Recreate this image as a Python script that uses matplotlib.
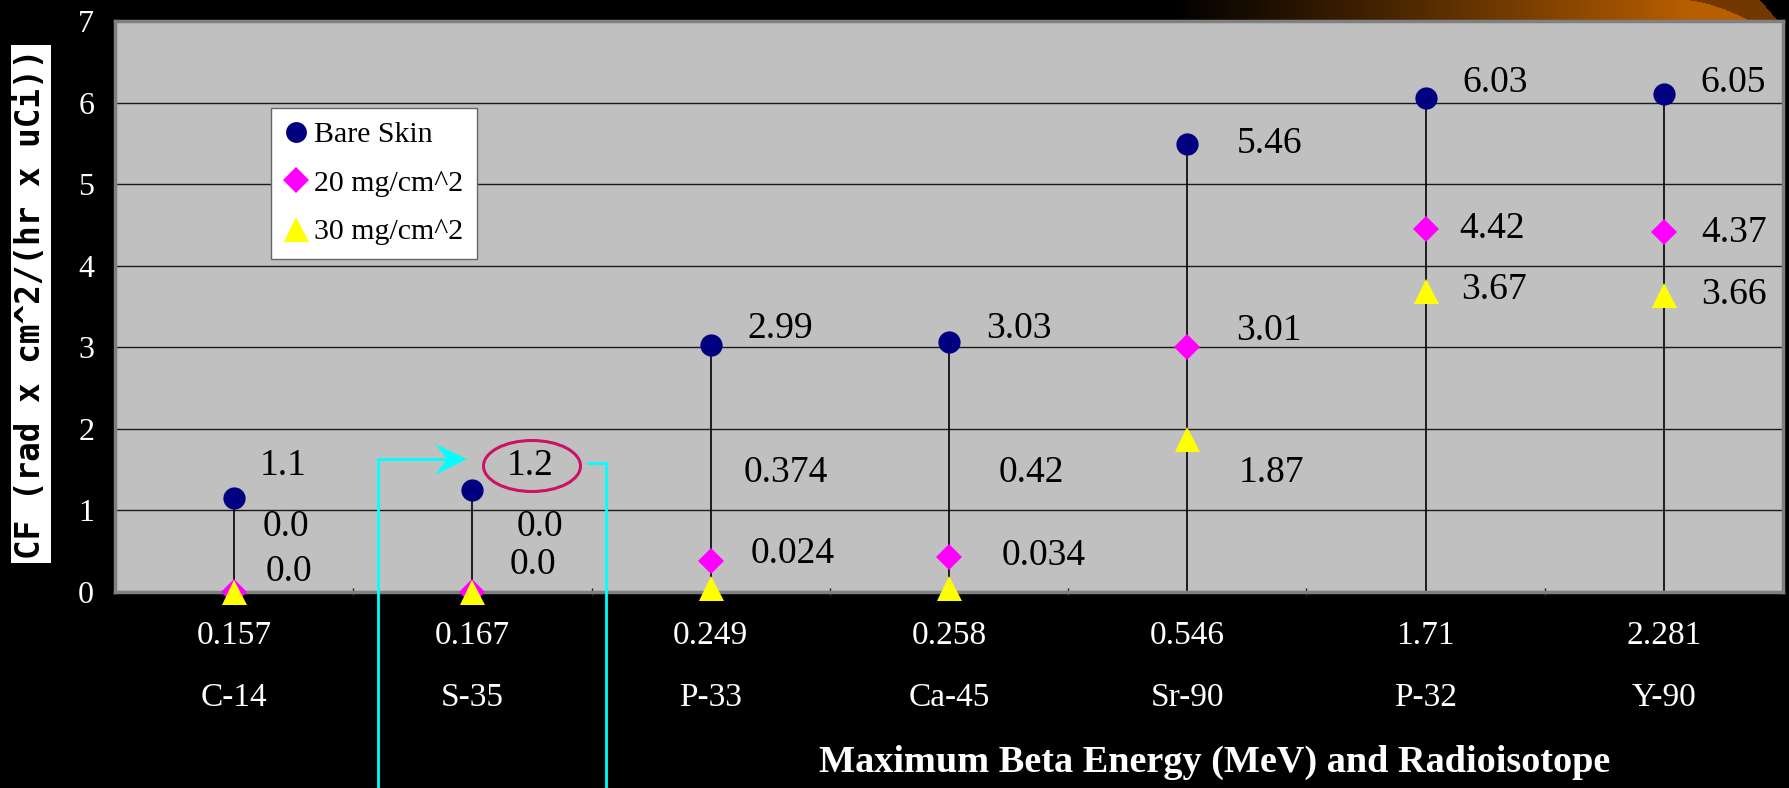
import numpy as np
import matplotlib
matplotlib.use("Agg")
import matplotlib.pyplot as plt
from matplotlib.patches import Ellipse, Polygon
from matplotlib.lines import Line2D
from matplotlib.font_manager import FontProperties

# ---------------- data ----------------
energies = ["0.157", "0.167", "0.249", "0.258", "0.546", "1.71", "2.281"]
isotopes = ["C-14", "S-35", "P-33", "Ca-45", "Sr-90", "P-32", "Y-90"]
series_names = ["Bare Skin", "20 mg/cm^2", "30 mg/cm^2"]

bare_skin = [1.15, 1.25, 3.03, 3.07, 5.49, 6.06, 6.10]
mg20 = [0.0, 0.0, 0.38, 0.43, 3.00, 4.45, 4.41]
mg30 = [0.0, 0.0, 0.05, 0.05, 1.87, 3.69, 3.64]

bare_labels = ["1.1", "1.2", "2.99", "3.03", "5.46", "6.03", "6.05"]
mg20_labels = ["0.0", "0.0", "0.374", "0.42", "3.01", "4.42", "4.37"]
mg30_labels = ["0.0", "0.0", "0.024", "0.034", "1.87", "3.67", "3.66"]

# label anchor positions (layout)
bare_label_y = [1.55, 1.55, 3.23, 3.23, 5.50, 6.24, 6.24]
mg20_label_y = [0.80, 0.80, 1.46, 1.46, 3.20, 4.45, 4.41]
mg30_label_y = [0.25, 0.33, 0.47, 0.44, 1.46, 3.71, 3.64]
bare_dx = [26, 34, 37, 37, 49, 37, 37]
mg20_dx = [28, 44, 33, 50, 49, 34, 37]
mg30_dx = [31, 37, 40, 53, 51, 36, 37]

# ---------------- figure ----------------
W, H = 1789, 788
fig = plt.figure(figsize=(W / 100, H / 100), dpi=100, facecolor="black")

SERIF = "Liberation Serif"

# decorative gradient strip (top right)
gx0, gx1 = 1149, 1789
gh = 21
gax = fig.add_axes([gx0 / W, (H - gh) / H, (gx1 - gx0) / W, gh / H], zorder=0)
xs = np.arange(gx0, gx1) + 0.5
ys = np.arange(gh) + 0.5
X, Y = np.meshgrid(xs, ys)
t = np.clip((X - 1165) / (1690 - 1165), 0, 1) ** 1.1
img = np.zeros((gh, gx1 - gx0, 3))
orange = np.array([0.72, 0.37, 0.0])
img[:] = t[..., None] * orange
b1 = 1683 + (1750 - 1683) * (Y / gh) ** 0.6
b2 = 1760 + (1778 - 1760) * (Y / gh)
band = (X >= b1) & (X < b2)
img[band] = np.array([0.45, 0.22, 0.0])
img[X >= b2] = 0.0
gax.imshow(img, aspect="auto", extent=[0, 1, 0, 1], origin="upper")
gax.set_axis_off()

# main axes
left, right, top, bottom = 115, 1783, 21, 592
ax = fig.add_axes([left / W, (H - bottom) / H, (right - left) / W, (bottom - top) / H], zorder=1)
ax.set_facecolor("#C0C0C0")
ax.set_xlim(0, len(isotopes))
ax.set_ylim(0, 7)

x = np.arange(len(isotopes)) + 0.5
px_per_unit = (right - left) / len(isotopes)

# gridlines
ax.set_yticks(range(0, 8))
ax.yaxis.grid(True, color="#1a1a1a", linewidth=1.0)
ax.set_axisbelow(True)
ax.tick_params(axis="y", length=0, pad=15, labelcolor="white", labelsize=23)
for lab in ax.get_yticklabels():
    lab.set_family(SERIF)

# x ticks at category boundaries
ax.set_xticks(range(1, len(isotopes)))
ax.set_xticklabels([])
ax.tick_params(axis="x", length=6, direction="inout", color="#222222", width=1)

for sp in ax.spines.values():
    sp.set_color("#808080")
    sp.set_linewidth(2.5)

# stems
ax.vlines(x, 0, bare_skin, color="black", linewidth=1.2, zorder=2)

# series
ax.plot(x, bare_skin, linestyle="none", marker="o", markersize=16, color="#000080",
        markeredgewidth=0, zorder=3, clip_on=False)
ax.plot(x, mg20, linestyle="none", marker="D", markersize=13, color="#FF00FF",
        markeredgewidth=0, zorder=4, clip_on=False)
ax.plot(x, mg30, linestyle="none", marker="^", markersize=18, color="#FFFF00",
        markeredgewidth=0, zorder=5, clip_on=False)

# data labels
for labels, ly, dx in ((bare_labels, bare_label_y, bare_dx),
                       (mg20_labels, mg20_label_y, mg20_dx),
                       (mg30_labels, mg30_label_y, mg30_dx)):
    for xi, lab, yv, d in zip(x, labels, ly, dx):
        ax.text(xi + d / px_per_unit, yv, lab, family=SERIF, fontsize=27,
                color="black", ha="left", va="center", zorder=6)

# category labels (two rows)
for xi, e, iso in zip(x, energies, isotopes):
    ax.text(xi, -44 / (bottom - top), e, transform=ax.get_xaxis_transform(),
            family=SERIF, fontsize=24, color="white", ha="center", va="center")
    ax.text(xi, -106 / (bottom - top), iso, transform=ax.get_xaxis_transform(),
            family=SERIF, fontsize=24, color="white", ha="center", va="center")

fig.text(1215 / W, 1 - 762 / H, "Maximum Beta Energy (MeV) and Radioisotope",
         family=SERIF, fontsize=27.5, fontweight="bold", color="white",
         ha="center", va="center")

# y label in white box
fig.text(31 / W, 1 - 304 / H, "CF (rad x cm^2/(hr x uCi))", rotation=90,
         family="DejaVu Sans Mono", fontweight="bold", fontsize=23.5, color="black",
         ha="center", va="center",
         bbox=dict(boxstyle="square,pad=0.12", facecolor="white", edgecolor="none"))

# legend
handles = [
    Line2D([], [], linestyle="none", marker="o", markersize=15, color="#000080", markeredgewidth=0),
    Line2D([], [], linestyle="none", marker="D", markersize=13, color="#FF00FF", markeredgewidth=0),
    Line2D([], [], linestyle="none", marker="^", markersize=18, color="#FFFF00", markeredgewidth=0),
]
leg = ax.legend(handles, series_names, loc="upper left",
                bbox_to_anchor=(271 / W, 1 - 108 / H), bbox_transform=fig.transFigure,
                borderaxespad=0, frameon=True, fancybox=False, framealpha=1,
                facecolor="white", edgecolor="#666666",
                prop=FontProperties(family=SERIF, size=21.5),
                handlelength=0.75, handletextpad=0.25, labelspacing=0.72, borderpad=0.45)
leg.get_frame().set_linewidth(1.0)
leg.set_zorder(10)

# cyan annotation with arrow and ellipse
def fx(px):
    return px / W

def fy(py):
    return 1 - py / H

cyan = "#00FFFF"
fig.add_artist(Line2D([fx(378), fx(378), fx(450)], [fy(790), fy(459), fy(459)],
                      transform=fig.transFigure, color=cyan, linewidth=2.0, zorder=20))
fig.add_artist(Polygon([[fx(467), fy(459)], [fx(435), fy(444)], [fx(447), fy(459)],
                        [fx(435), fy(475)]], closed=True, transform=fig.transFigure,
                       facecolor=cyan, edgecolor="none", zorder=20))
fig.add_artist(Line2D([fx(588), fx(606), fx(606)], [fy(463), fy(463), fy(790)],
                      transform=fig.transFigure, color=cyan, linewidth=2.0, zorder=20))
fig.add_artist(Ellipse((fx(532), fy(466)), 97 / W, 51 / H, transform=fig.transFigure,
                       facecolor="none", edgecolor="#CC1166", linewidth=2.2, zorder=20))

fig.savefig("out.png", dpi=100, facecolor="black")
